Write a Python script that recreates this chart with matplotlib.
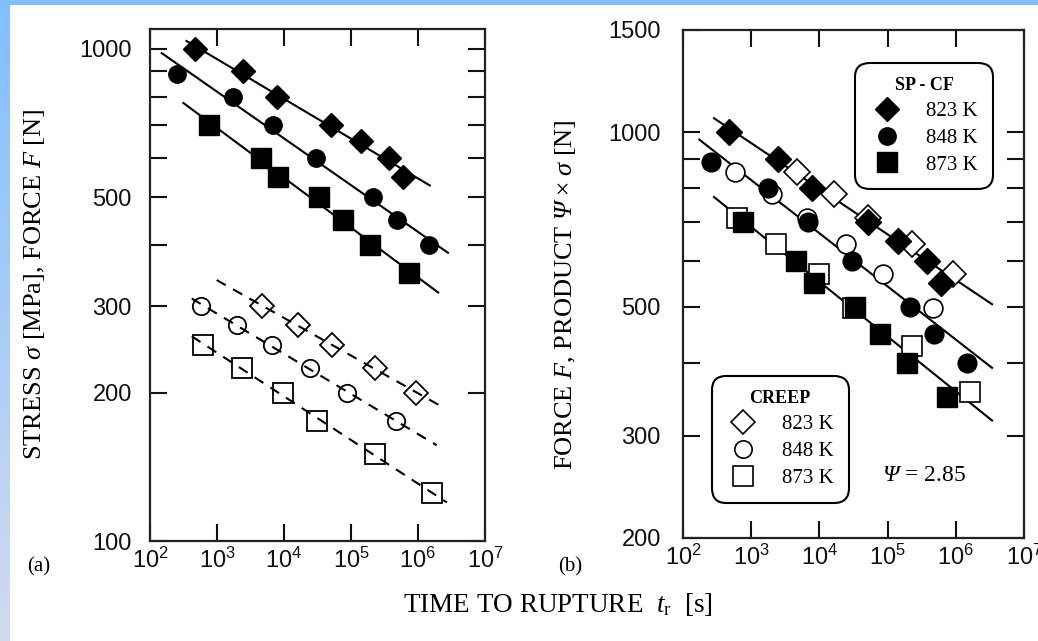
import numpy as np
import matplotlib.pyplot as plt
from matplotlib.lines import Line2D
from matplotlib.ticker import FixedLocator, NullLocator

plt.rcParams['font.family'] = 'Liberation Sans'
# serif italic for the symbols in the axis labels, upright serif for subscripts
plt.rcParams['mathtext.fontset'] = 'custom'
plt.rcParams['mathtext.rm'] = 'Liberation Serif:italic'
plt.rcParams['mathtext.it'] = 'Liberation Serif:italic'
plt.rcParams['mathtext.sf'] = 'Liberation Serif'

SERIF = 'Liberation Serif'
PSI = 2.85

# small punch - constant force (SP-CF) tests: time to rupture [s] and force [N]
t_cf_823 = [470, 2470, 7900, 51000, 141000, 373000, 600000]
F_823 = [1000, 900, 800, 700, 650, 600, 550]
t_cf_848 = [256, 1750, 6800, 30000, 211000, 480000, 1470000]
F_848 = [890, 800, 700, 600, 500, 450, 400]
t_cf_873 = [770, 4500, 8200, 33000, 77000, 192000, 740000]
F_873 = [700, 600, 550, 500, 450, 400, 350]

# conventional creep tests: time to rupture [s] and stress [MPa]
t_cr_823 = [4640, 16300, 51500, 228000, 920000]
s_823 = [300, 275, 250, 225, 200]
t_cr_848 = [577, 2010, 6680, 24400, 86300, 470000]
s_848 = [300, 275, 250, 225, 200, 175]
t_cr_873 = [625, 2340, 9770, 30700, 228000, 1640000]
s_873 = [250, 225, 200, 175, 150, 125]

# extent of the regression lines (time range)
span_cf_a = [[350, 1.5e6], [150, 2.8e6], [315, 2.0e6]]
span_cr_a = [[990, 2.5e6], [420, 1.9e6], [420, 2.7e6]]
span_b = [[285, 3.4e6], [173, 3.4e6], [285, 3.4e6]]

temps = ['823 K', '848 K', '873 K']
marks = ['D', 'o', 's']
msize = [12, 12.5, 14]

x_ticks = [1e2, 1e3, 1e4, 1e5, 1e6, 1e7]
x_ticklabels = [r'$\mathregular{10^{%d}}$' % k for k in range(2, 8)]
y_ticks_a = [100, 200, 300, 400, 500, 600, 700, 800, 900, 1000]
y_labels_a = ['100', '200', '300', '', '500', '', '', '', '', '1000']
y_ticks_b = [200, 300, 400, 500, 600, 700, 800, 900, 1000, 1500]
y_labels_b = ['200', '300', '', '500', '', '', '', '', '1000', '1500']


def fit_line(t, v, span):
    k, b = np.polyfit(np.log10(t), np.log10(v), 1)
    tt = np.logspace(np.log10(span[0]), np.log10(span[1]), 50)
    return tt, 10 ** (b + k * np.log10(tt))


def style(ax, ylim, yt, ytl, ypad):
    ax.set_xscale('log')
    ax.set_yscale('log')
    ax.set_xlim(1e2, 1e7)
    ax.set_ylim(*ylim)
    ax.xaxis.set_major_locator(FixedLocator(x_ticks))
    ax.xaxis.set_minor_locator(NullLocator())
    ax.set_xticklabels(x_ticklabels)
    ax.yaxis.set_major_locator(FixedLocator(yt))
    ax.yaxis.set_minor_locator(NullLocator())
    ax.set_yticklabels(ytl)
    ax.tick_params(which='both', direction='in', top=True, right=True,
                   length=12, width=1.5, labelsize=17, colors='#111111')
    ax.tick_params(axis='y', pad=ypad)
    ax.tick_params(axis='x', pad=5)
    for sp in ax.spines.values():
        sp.set_linewidth(1.6)
        sp.set_color('#222222')


fig = plt.figure(figsize=(10.38, 6.41), dpi=100)

# blue frame strips
strip_top = fig.add_axes([0, 1 - 5 / 641, 1, 5 / 641])
strip_top.set_facecolor('#80bfff')
strip_top.set_xticks([])
strip_top.set_yticks([])
for sp in strip_top.spines.values():
    sp.set_visible(False)
strip_left = fig.add_axes([0, 0, 10 / 1038, 1])
grad = np.linspace(0, 1, 256)[:, None, None]
c_top = np.array([128, 191, 255]) / 255
c_bot = np.array([210, 218, 240]) / 255
strip_left.imshow(c_top * (1 - grad) + c_bot * grad, aspect='auto')
strip_left.axis('off')

ax1 = fig.add_axes([150 / 1038, 100 / 641, 335 / 1038, 512 / 641])
ax2 = fig.add_axes([683 / 1038, 103 / 641, 341 / 1038, 508 / 641])

cf_t = [t_cf_823, t_cf_848, t_cf_873]
cf_F = [F_823, F_848, F_873]
cr_t = [t_cr_823, t_cr_848, t_cr_873]
cr_s = [s_823, s_848, s_873]

# (a) force and stress vs. time to rupture
for i in range(3):
    tt, vv = fit_line(cf_t[i], cf_F[i], span_cf_a[i])
    ax1.plot(tt, vv, color='k', lw=1.5, zorder=2)
    tt, vv = fit_line(cr_t[i], cr_s[i], span_cr_a[i])
    ax1.plot(tt, vv, color='k', lw=1.5, ls=(0, (5, 4)), zorder=2)
    ax1.plot(cf_t[i], cf_F[i], marks[i], color='k', ms=msize[i], zorder=4)
    ax1.plot(cr_t[i], cr_s[i], marks[i], mfc='none', mec='k', mew=1.3,
             ms=msize[i], zorder=3)
style(ax1, (100, 1098), y_ticks_a, y_labels_a, 13)

# (b) force and psi * stress vs. time to rupture
for i in range(3):
    prod = [PSI * s for s in cr_s[i]]
    tt, vv = fit_line(list(cf_t[i]) + list(cr_t[i]), list(cf_F[i]) + prod, span_b[i])
    ax2.plot(tt, vv, color='k', lw=1.5, zorder=2)
    ax2.plot(cr_t[i], prod, marks[i], mfc='white', mec='k', mew=1.2,
             ms=msize[i] + 1, zorder=3)
    ax2.plot(cf_t[i], cf_F[i], marks[i], color='k', ms=msize[i] + 1, zorder=4)
style(ax2, (200, 1500), y_ticks_b, y_labels_b, 16)

h_cf = [Line2D([], [], marker=m, color='k', ls='none', ms=s) for m, s in zip(marks, msize)]
h_cr = [Line2D([], [], marker=m, mfc='none', mec='k', mew=1.2, ls='none', ms=s)
        for m, s in zip(marks, msize)]

leg1 = ax2.legend(h_cf, temps, loc='upper right', bbox_to_anchor=(0.908, 0.936),
                  borderaxespad=0, title='SP - CF', prop={'family': SERIF, 'size': 15},
                  title_fontproperties={'family': SERIF, 'weight': 'bold', 'size': 13},
                  handlelength=1.6, handletextpad=1.1, labelspacing=0.35, borderpad=0.7,
                  fancybox=True, framealpha=1, edgecolor='k')
leg1.get_frame().set_linewidth(1.5)
leg1.get_frame().set_boxstyle('round', pad=0, rounding_size=0.7)
ax2.add_artist(leg1)

leg2 = ax2.legend(h_cr, temps, loc='lower left', bbox_to_anchor=(0.084, 0.0695),
                  borderaxespad=0, title='CREEP', prop={'family': SERIF, 'size': 15},
                  title_fontproperties={'family': SERIF, 'weight': 'bold', 'size': 13},
                  handlelength=1.6, handletextpad=1.1, labelspacing=0.35, borderpad=0.7,
                  fancybox=True, framealpha=1, edgecolor='k')
leg2.get_frame().set_linewidth(1.5)
leg2.get_frame().set_boxstyle('round', pad=0, rounding_size=0.7)

ax2.text(0.583, 0.124, r'$\Psi$ = 2.85', transform=ax2.transAxes,
         family=SERIF, fontsize=17, va='center', ha='left')

fig.text(35 / 1038, 1 - 284 / 641, r'STRESS $\sigma$ [MPa], FORCE $F$ [N]',
         rotation=90, family=SERIF, fontsize=19, ha='center', va='center')
fig.text(566 / 1038, 1 - 295 / 641,
         r'FORCE $F$, PRODUCT $\Psi \times \sigma$ [N]',
         rotation=90, family=SERIF, fontsize=19, ha='center', va='center')
fig.text(558 / 1038, 1 - 604 / 641, r'TIME TO RUPTURE  $t_\mathsf{r}$  [s]',
         family=SERIF, fontsize=19.5, ha='center', va='center')
fig.text(39 / 1038, 1 - 567 / 641, '(a)', family=SERIF, fontsize=15, ha='center', va='center')
fig.text(570 / 1038, 1 - 567 / 641, '(b)', family=SERIF, fontsize=15, ha='center', va='center')

fig.savefig('out.png', dpi=100)
